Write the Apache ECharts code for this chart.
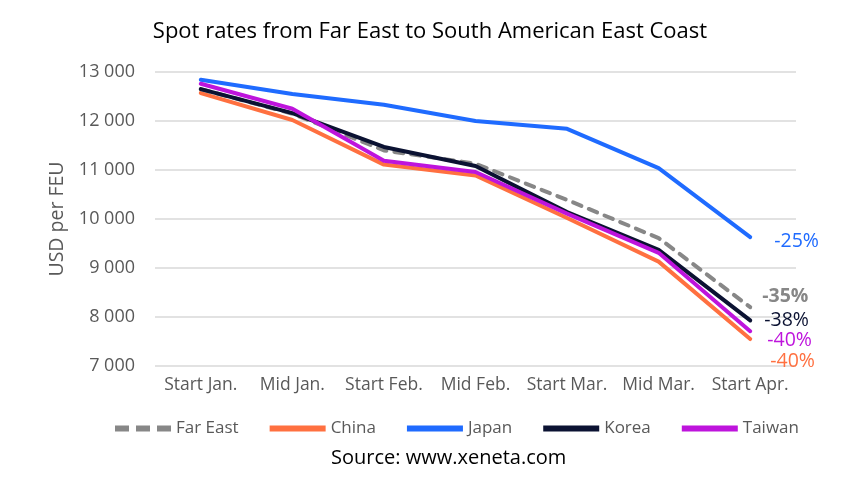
<!DOCTYPE html>
<html><head><meta charset="utf-8">
<script src="https://cdn.jsdelivr.net/npm/echarts@6/dist/echarts.min.js"></script>
<style>html,body{margin:0;padding:0;background:#fff}#c{width:860px;height:485px}</style>
</head><body><div id="c"></div>
<script>
const categories = ['Start Jan.','Mid Jan.','Start Feb.','Mid Feb.','Start Mar.','Mid Mar.','Start Apr.'];
const farEast = [12650, 12150, 11400, 11130, 10390, 9610, 8200];
const china   = [12570, 12020, 11110, 10890, 10020, 9130, 7550];
const japan   = [12840, 12550, 12330, 12000, 11840, 11040, 9630];
const korea   = [12650, 12160, 11470, 11080, 10140, 9370, 7930];
const taiwan  = [12760, 12250, 11190, 10960, 10110, 9310, 7710];
const changeLabels = {farEast:'-35%', china:'-40%', japan:'-25%', korea:'-38%', taiwan:'-40%'};
const yTicks = {min:7000, max:13000, interval:1000};

const FONT = '"Open Sans", sans-serif';
function mk(name, data, color, key, off, extra){
  return Object.assign({
    name, type:'line', data, showSymbol:false, symbol:'none',
    lineStyle:{color, width:4, cap:'round', join:'round'},
    itemStyle:{color},
    endLabel:{show:true, formatter:changeLabels[key], color, fontSize:19.5, fontFamily:FONT, offset:off, align:'left'}
  }, extra||{});
}
const solidIcon = 'path://M0,0h56v6h-56z';
const dashIcon = 'path://M0,0h14v6h-14z M21,0h14v6h-14z M42,0h14v6h-14z';
const chart = echarts.init(document.getElementById('c'));
chart.setOption({
  animation:false,
  title:{text:'Spot rates from Far East to South American East Coast', left:'center', top:16,
    textStyle:{fontSize:22, fontWeight:'normal', color:'#000', fontFamily:FONT}},
  grid:{left:155, right:64, top:72, bottom:119},
  xAxis:{type:'category', data:categories, boundaryGap:true,
    axisLine:{show:false}, axisTick:{show:false},
    axisLabel:{interval:0, color:'#595959', fontSize:17.5, fontFamily:FONT, margin:10}},
  yAxis:{type:'value', min:yTicks.min, max:yTicks.max, interval:yTicks.interval,
    name:'USD per FEU', nameLocation:'middle', nameGap:88, nameRotate:90,
    nameTextStyle:{color:'#595959', fontSize:19.5, fontFamily:FONT},
    axisLine:{show:false}, axisTick:{show:false},
    splitLine:{lineStyle:{color:'#d9d9d9', width:1.5}},
    axisLabel:{color:'#595959', fontSize:18, fontFamily:FONT, margin:20,
      formatter:v=>String(v).replace(/\B(?=(\d{3})+(?!\d))/g,' ')}},
  legend:{top:415, left:110, itemWidth:56, itemHeight:6, itemGap:31,
    textStyle:{color:'#595959', fontSize:17, fontFamily:FONT, padding:[0,0,0,0]},
    data:[{name:'Far East', icon:dashIcon},{name:'China', icon:solidIcon},{name:'Japan', icon:solidIcon},{name:'Korea', icon:solidIcon},{name:'Taiwan', icon:solidIcon}]},
  graphic:[{type:'text', left:331, top:448, style:{text:'Source: www.xeneta.com', fill:'#000', font:'20px '+FONT}}],
  series:[
    mk('China', china, '#FF7040', 'china', [12,22]),
    mk('Far East', farEast, '#878787', 'farEast', [4,-10], {lineStyle:{color:'#878787', width:4, type:[9,8], cap:'round'}, endLabel:{show:true, formatter:changeLabels.farEast, color:'#878787', fontSize:19.5, fontWeight:'bold', fontFamily:FONT, offset:[4,-11]}}),
    mk('Japan', japan, '#1F6BFF', 'japan', [16,4]),
    mk('Korea', korea, '#0B1232', 'korea', [6,0]),
    mk('Taiwan', taiwan, '#BE14DC', 'taiwan', [9,9])
  ]
});
</script></body></html>
